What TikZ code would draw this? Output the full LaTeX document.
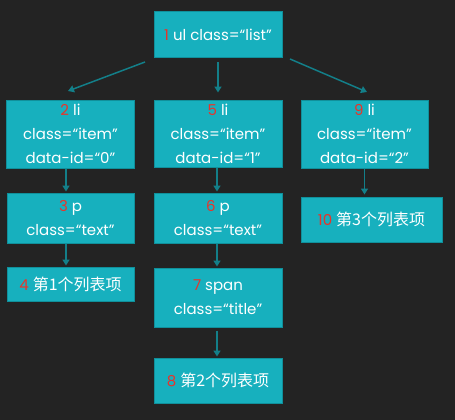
\documentclass[tikz,border=0pt]{standalone}
\usepackage{fontspec}
\setmainfont{Poppins}
\newfontfamily\cjk{Noto Sans CJK SC}
\usetikzlibrary{arrows.meta}
\definecolor{bg}{HTML}{232323}
\definecolor{boxfill}{HTML}{17B0BE}
\definecolor{boxline}{HTML}{10909B}
\definecolor{arrowc}{HTML}{137F89}
\definecolor{numred}{HTML}{E8342A}
\newcommand\rnum[1]{\textcolor{numred}{#1}}
\newcommand\zh[1]{{\cjk\fontsize{16}{24}\selectfont #1}}
\begin{document}
\begin{tikzpicture}[x=1pt,y=-1pt,
  box/.style={draw=boxline, line width=1pt, fill=boxfill, text=white, align=center,
    font=\fontsize{15}{24}\selectfont, inner sep=0pt},
  arr/.style={draw=arrowc, line width=1.5pt, -{Triangle[width=7pt,length=6pt]}}]
\fill[bg] (0,0) rectangle (455,420);
\useasboundingbox (0,0) rectangle (455,420);
\node[box, minimum width=128pt, minimum height=46pt] (n1) at (218,35) {\rnum{1} ul class=“list”};
\node[box, minimum width=128pt, minimum height=68pt] (n2) at (70.5,134) {\rnum{2} li\\class=“item”\\data-id=“0”};
\node[box, minimum width=128pt, minimum height=67pt] (n5) at (218,133.5) {\rnum{5} li\\class=“item”\\data-id=“1”};
\node[box, minimum width=127pt, minimum height=68pt] (n9) at (364.5,134) {\rnum{9} li\\class=“item”\\data-id=“2”};
\node[box, minimum width=127pt, minimum height=50pt] (n3) at (70.5,218) {\rnum{3} p\\class=“text”};
\node[box, minimum width=127pt, minimum height=34pt] (n4) at (70.5,284) {\rnum{4} \zh{第1个列表项}};
\node[box, minimum width=128pt, minimum height=50pt] (n6) at (218,218) {\rnum{6} p\\class=“text”};
\node[box, minimum width=128pt, minimum height=59pt] (n7) at (218,297.5) {\rnum{7} span\\class=“title”};
\node[box, minimum width=128pt, minimum height=45pt] (n8) at (218,380.5) {\rnum{8} \zh{第2个列表项}};
\node[box, minimum width=141pt, minimum height=45pt] (n10) at (371.5,219.5) {\rnum{10} \zh{第3个列表项}};
\coordinate (s12) at (145,62);
\coordinate (t12) at (68,91);
\coordinate (s19) at (290,59);
\coordinate (t19) at (367,92);
\draw[arr] (s12) -- (t12);
\draw[arr] (s19) -- (t19);
\draw[arr, shorten <=4pt, shorten >=7pt] (n1.south) -- (n5.north);
\draw[arr, shorten >=1pt] ([xshift=-4.5pt]n2.south) -- ([xshift=-4.5pt]n3.north);
\draw[arr, shorten >=1pt] ([xshift=-4.5pt]n3.south) -- ([xshift=-4.5pt]n4.north);
\draw[arr, shorten >=1pt] ([xshift=-1pt]n5.south) -- ([xshift=-1pt]n6.north);
\draw[arr, shorten >=1pt] ([xshift=-1pt]n6.south) -- ([xshift=-1pt]n7.north);
\draw[arr, shorten <=3pt, shorten >=1pt] ([xshift=-1pt]n7.south) -- ([xshift=-1pt]n8.north);
\draw[arr, shorten >=2pt] (n9.south) -- (n9.south |- n10.north);
\end{tikzpicture}
\end{document}
